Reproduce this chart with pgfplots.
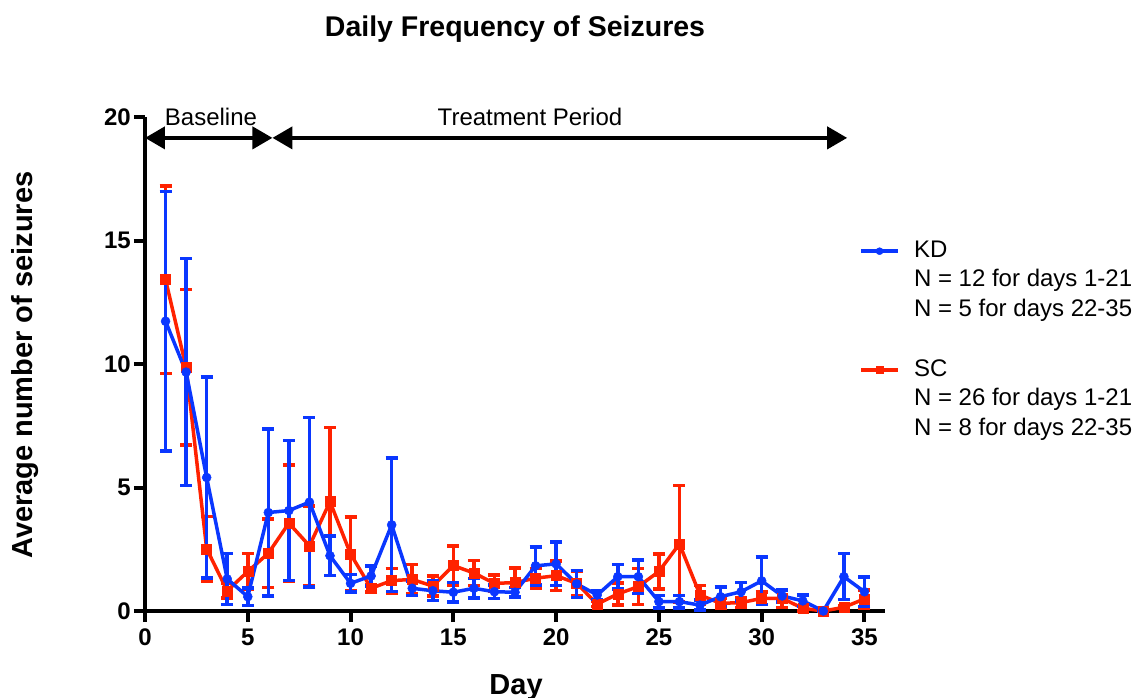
\documentclass[border=0pt]{standalone}
\usepackage{fontspec}
\setmainfont{Liberation Sans}
\usepackage{pgfplots}
\usepackage{pgfplotstable}
\pgfplotsset{compat=1.18}
\usetikzlibrary{arrows.meta}
\definecolor{kdblue}{RGB}{10,55,255}
\definecolor{scred}{RGB}{255,34,0}
\pgfplotsset{longleg/.style={legend image code/.code={\path[draw=none,fill=none] (53bp,0bp);\draw[mark repeat=2,mark phase=2,##1] plot coordinates {(0bp,0bp) (18.5bp,0bp) (37bp,0bp)};}}}

\pgfplotstableread{
x y e
1 11.74 5.25
2 9.68 4.60
3 5.41 4.07
4 1.30 1.03
5 0.58 0.36
6 3.99 3.39
7 4.07 2.84
8 4.41 3.43
9 2.24 0.80
10 1.12 0.35
11 1.42 0.40
12 3.49 2.70
13 0.92 0.30
14 0.82 0.40
15 0.76 0.40
16 0.92 0.40
17 0.78 0.28
18 0.76 0.20
19 1.83 0.77
20 1.91 0.88
21 1.10 0.55
22 0.65 0.18
23 1.39 0.50
24 1.39 0.68
25 0.38 0.25
26 0.38 0.25
27 0.24 0.20
28 0.58 0.40
29 0.78 0.37
30 1.22 0.96
31 0.61 0.25
32 0.41 0.23
33 0.00 0.00
34 1.39 0.93
35 0.78 0.60
}\kddata

\pgfplotstableread{
x y e
1 13.43 3.80
2 9.87 3.15
3 2.52 1.30
4 0.82 0.30
5 1.60 0.72
6 2.34 1.38
7 3.56 2.35
8 2.64 1.62
9 4.43 3.00
10 2.31 1.50
11 0.92 0.15
12 1.23 0.50
13 1.28 0.60
14 1.01 0.40
15 1.84 0.80
16 1.54 0.50
17 1.12 0.33
18 1.15 0.60
19 1.33 0.40
20 1.43 0.60
21 1.12 0.50
22 0.28 0.10
23 0.69 0.45
24 0.99 0.73
25 1.60 0.70
26 2.72 2.36
27 0.65 0.38
28 0.31 0.20
29 0.34 0.20
30 0.51 0.25
31 0.51 0.37
32 0.11 0.10
33 0.00 0.00
34 0.15 0.05
35 0.49 0.36
}\scdata

\begin{document}
\begin{tikzpicture}
\begin{axis}[
  at={(0,0)}, anchor=south west,
  scale only axis, width=740bp, height=493.6bp,
  xmin=0, xmax=36, ymin=0, ymax=20,
  axis x line*=bottom, axis y line*=left,
  axis line style={line width=4.5bp, -},
  xtick={0,5,...,35}, ytick={0,5,...,20},
  minor tick num=0,
  tick align=outside, major tick length=11bp,
  tick style={black, line width=4bp},
  /pgf/number format/assume math mode=true,
  ticklabel style={font=\fontsize{24bp}{28bp}\selectfont\bfseries, inner sep=3bp},
  xticklabel style={yshift=-4bp},
  clip=false,
  title={Daily Frequency of Seizures},
  every axis title/.style={at={(axis description cs:0.5,1.1629)}, anchor=base, font=\fontsize{28.5bp}{32bp}\selectfont\bfseries},
  xlabel={Day},
  every axis x label/.style={at={(axis description cs:0.5014,-0.1682)}, anchor=base, font=\fontsize{29bp}{32bp}\selectfont\bfseries},
  ylabel={Average number of seizures},
  every axis y label/.style={at={(axis description cs:-0.1514,0.498)}, anchor=base, rotate=90, font=\fontsize{29bp}{32bp}\selectfont\bfseries},
  legend style={at={(axis description cs:0.965,0.7516)}, anchor=north west, draw=none, fill=none, inner sep=0pt, font=\fontsize{24bp}{28bp}\selectfont, row sep=7.7bp, nodes={inner sep=0pt, text height=17bp, text depth=5bp}},
  legend cell align=left,
]
\addlegendimage{kdblue, line width=3.5bp, mark=*, mark size=3.5bp, mark options={line width=0.5bp, solid, fill=kdblue}, longleg}
\addlegendentry{KD}
\addlegendimage{empty legend}\addlegendentry{N = 12 for days 1-21}
\addlegendimage{empty legend}\addlegendentry{N = 5 for days 22-35}
\addlegendimage{empty legend}\addlegendentry{\mbox{}}
\addlegendimage{scred, line width=3.5bp, mark=square*, mark size=3.5bp, mark options={line width=0.5bp, solid, fill=scred}, longleg}
\addlegendentry{SC}
\addlegendimage{empty legend}\addlegendentry{N = 26 for days 1-21}
\addlegendimage{empty legend}\addlegendentry{N = 8 for days 22-35}

\addplot[scred, line width=3.5bp, mark=square*, mark size=5bp, mark options={line width=0.5bp, solid, fill=scred}, forget plot,
  error bars/.cd, y dir=both, y explicit,
  error bar style={line width=3.5bp, scred},
  error mark options={rotate=90, line width=3.5bp, mark size=6bp, scred}]
  table[x=x, y=y, y error=e]{\scdata};
\addplot[kdblue, line width=3.5bp, mark=*, mark size=4.5bp, mark options={line width=0.5bp, solid, fill=kdblue}, forget plot,
  error bars/.cd, y dir=both, y explicit,
  error bar style={line width=3.5bp, kdblue},
  error mark options={rotate=90, line width=3.5bp, mark size=6bp, kdblue}]
  table[x=x, y=y, y error=e]{\kddata};

\draw[line width=4bp, {Triangle[length=20bp,width=22bp]}-{Triangle[length=20bp,width=22bp]}] (axis cs:0,19.17) -- (axis cs:6.2,19.17);
\draw[line width=4bp, {Triangle[length=20bp,width=22bp]}-{Triangle[length=20bp,width=22bp]}] (axis cs:6.2,19.17) -- (axis cs:34.16,19.17);
\node[anchor=base, font=\fontsize{24bp}{28bp}\selectfont] at (axis cs:3.21,19.69) {Baseline};
\node[anchor=base, font=\fontsize{24bp}{28bp}\selectfont] at (axis cs:18.73,19.69) {Treatment Period};
\end{axis}
\pgfresetboundingbox
\useasboundingbox (-145bp,-87bp) rectangle (998bp,611bp);
\end{tikzpicture}
\end{document}
